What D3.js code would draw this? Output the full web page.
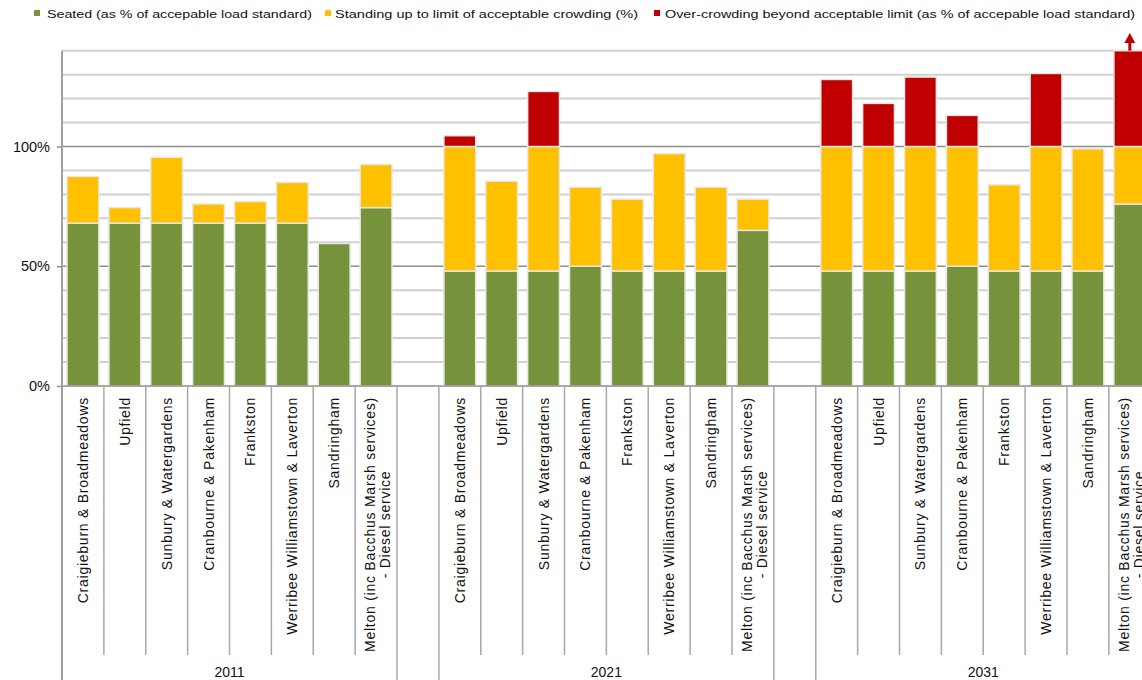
<!DOCTYPE html>
<html>
<head>
<meta charset="utf-8">
<script src="https://cdn.jsdelivr.net/npm/d3@7"></script>
<style>
  body { margin: 0; background: #fff; }
  svg { display: block; font-family: "Liberation Sans", Arial, sans-serif; }
</style>
</head>
<body>
<div id="chart"></div>
<script>
// ---------- Data ----------
const years = ["2011", "2021", "2031"];
const lines = [
  "Craigieburn & Broadmeadows",
  "Upfield",
  "Sunbury & Watergardens",
  "Cranbourne & Pakenham",
  "Frankston",
  "Werribee Williamstown & Laverton",
  "Sandringham",
  "Melton (inc Bacchus Marsh services)\n- Diesel service"
];

// % of acceptable load standard, per line
const seated2011   = [68, 68, 68, 68, 68, 68, 59.5, 74.5];
const standing2011 = [19.5, 6.5, 27.5, 8, 9, 17, 0, 18];
const over2011     = [0, 0, 0, 0, 0, 0, 0, 0];

const seated2021   = [48, 48, 48, 50, 48, 48, 48, 65];
const standing2021 = [52, 37.5, 52, 33, 30, 49, 35, 13];
const over2021     = [4.5, 0, 23, 0, 0, 0, 0, 0];

const seated2031   = [48, 48, 48, 50, 48, 48, 48, 76];
const standing2031 = [52, 52, 52, 50, 36, 52, 51, 24];
const over2031     = [28, 18, 29, 13, 0, 30.5, 0, 45];

const legendLabels = [
  "Seated (as % of accepable load standard)",
  "Standing up to limit of acceptable crowding (%)",
  "Over-crowding beyond acceptable limit (as % of accepable load standard)"
];

const yTicks = [0, 50, 100];
const yMax = 140;

const COLORS = { seated: "#76933c", standing: "#ffc000", over: "#c00000" };
const KEYS = ["seated", "standing", "over"];

// ---------- Build rows ----------
const seriesByYear = {
  "2011": [seated2011, standing2011, over2011],
  "2021": [seated2021, standing2021, over2021],
  "2031": [seated2031, standing2031, over2031]
};

const rows = [];
const domain = [];
years.forEach((yr, gi) => {
  if (gi > 0) domain.push("gap" + gi); // empty slot between year groups
  lines.forEach((ln, i) => {
    const key = yr + "|" + i;
    domain.push(key);
    const [s, st, o] = seriesByYear[yr];
    rows.push({ key, year: yr, line: ln, seated: s[i], standing: st[i], over: o[i] });
  });
});

// ---------- Layout ----------
const W = 1142, H = 680;
const plotLeft = 62, base = 386, plotTop = 50.7;
const step = 41.875;

const svg = d3.select("#chart").append("svg")
  .attr("width", W)
  .attr("height", H);

const x = d3.scaleBand()
  .domain(domain)
  .range([plotLeft, plotLeft + domain.length * step])
  .paddingInner(0.24)
  .paddingOuter(0.12);

const y = d3.scaleLinear()
  .domain([0, yMax])
  .range([base, plotTop]);

// gridlines
svg.append("g")
  .selectAll("line")
  .data(d3.range(10, yMax + 1, 10))
  .enter()
  .append("line")
  .attr("x1", plotLeft).attr("x2", W)
  .attr("y1", d => y(d)).attr("y2", d => y(d))
  .attr("stroke", d => d % 50 === 0 ? "#8e8e8e" : "#d0d0d0")
  .attr("stroke-width", d => d % 50 === 0 ? 1.6 : 2);

// ---------- Bars ----------
const stack = d3.stack().keys(KEYS);
const stacked = stack(rows);

svg.append("g")
  .selectAll("g")
  .data(stacked)
  .enter()
  .append("g")
  .attr("fill", d => COLORS[d.key])
  .selectAll("rect")
  .data(d => d.filter(p => p[1] - p[0] > 0))
  .enter()
  .append("rect")
  .attr("x", d => x(d.data.key))
  .attr("width", x.bandwidth())
  .attr("y", d => y(Math.min(d[1], yMax)))
  .attr("height", d => y(d[0]) - y(Math.min(d[1], yMax)))
  .attr("stroke", "#e6e6e6")
  .attr("stroke-width", 1.5);

// arrow where the bar runs off the top of the axis
const offTop = rows.filter(r => r.seated + r.standing + r.over > yMax);
offTop.forEach(r => {
  const cx = x(r.key) + x.bandwidth() / 2;
  svg.append("line")
    .attr("x1", cx).attr("x2", cx)
    .attr("y1", y(yMax)).attr("y2", 41)
    .attr("stroke", COLORS.over)
    .attr("stroke-width", 3);
  svg.append("path")
    .attr("d", `M${cx - 5.5},43 L${cx},33 L${cx + 5.5},43 Z`)
    .attr("fill", COLORS.over);
});

// ---------- Axes ----------
// y axis
const yAxis = svg.append("g")
  .attr("transform", `translate(${plotLeft},0)`)
  .call(d3.axisLeft(y).tickValues(yTicks).tickFormat(d => d + "%").tickSize(5).tickPadding(7));
yAxis.select(".domain").remove();
yAxis.selectAll(".tick line").attr("stroke", "#8e8e8e").attr("stroke-width", 1.5);
yAxis.selectAll(".tick text")
  .attr("font-size", 14.5)
  .attr("font-family", "Liberation Sans, Arial, sans-serif")
  .attr("fill", "#111");

// vertical axis line (runs through category area too)
svg.append("line")
  .attr("x1", plotLeft).attr("x2", plotLeft)
  .attr("y1", plotTop).attr("y2", H)
  .attr("stroke", "#a0a0a0")
  .attr("stroke-width", 2);

// baseline
svg.append("line")
  .attr("x1", plotLeft).attr("x2", W)
  .attr("y1", base).attr("y2", base)
  .attr("stroke", "#8e8e8e")
  .attr("stroke-width", 1.6);

// category separators
const boundaries = domain.map(k => ({
  x: x(k) - x.step() * x.paddingOuter(),
  full: k.startsWith("gap") || k.endsWith("|0")
}));
boundaries.push({ x: plotLeft + domain.length * step, full: true });
svg.append("g")
  .selectAll("line")
  .data(boundaries.filter(b => b.x > plotLeft + 1))
  .enter()
  .append("line")
  .attr("x1", d => d.x).attr("x2", d => d.x)
  .attr("y1", base)
  .attr("y2", d => d.full ? H : 655)
  .attr("stroke", "#a8a8a8")
  .attr("stroke-width", 1.5);

// category labels
const labelG = svg.append("g")
  .attr("font-size", 14)
  .attr("letter-spacing", 0.75)
  .attr("fill", "#111");

rows.forEach(r => {
  const cx = x(r.key) + x.bandwidth() / 2;
  const parts = r.line.split("\n");
  if (parts.length === 1) {
    labelG.append("text")
      .attr("transform", `translate(${cx + 5},397) rotate(-90)`)
      .attr("text-anchor", "end")
      .text(parts[0]);
  } else {
    const t1 = labelG.append("text")
      .attr("text-anchor", "middle")
      .text(parts[0]);
    const len = t1.node().getComputedTextLength();
    const mid = 397 + len / 2;
    t1.attr("transform", `translate(${cx - 1},${mid}) rotate(-90)`);
    labelG.append("text")
      .attr("transform", `translate(${cx + 14},${mid}) rotate(-90)`)
      .attr("text-anchor", "middle")
      .text(parts[1]);
  }
});

// year labels
svg.append("g")
  .selectAll("text")
  .data(years)
  .enter()
  .append("text")
  .attr("x", yr => (x(yr + "|0") + x(yr + "|7") + x.bandwidth()) / 2)
  .attr("y", 677)
  .attr("text-anchor", "middle")
  .attr("font-size", 14)
  .attr("fill", "#111")
  .text(d => d);

// ---------- Legend ----------
const legendPos = [
  { sx: 34, tx: 47, w: 265 },
  { sx: 325, tx: 335, w: 303 },
  { sx: 654, tx: 665, w: 470 }
];
const legend = svg.append("g");
KEYS.forEach((k, i) => {
  const p = legendPos[i];
  legend.append("rect")
    .attr("x", p.sx).attr("y", 10)
    .attr("width", 6).attr("height", 6)
    .attr("fill", COLORS[k]);
  legend.append("text")
    .attr("x", p.tx).attr("y", 17.5)
    .attr("font-size", 11.5)
    .attr("fill", "#111")
    .attr("textLength", p.w)
    .attr("lengthAdjust", "spacingAndGlyphs")
    .text(legendLabels[i]);
});
</script>
</body>
</html>
